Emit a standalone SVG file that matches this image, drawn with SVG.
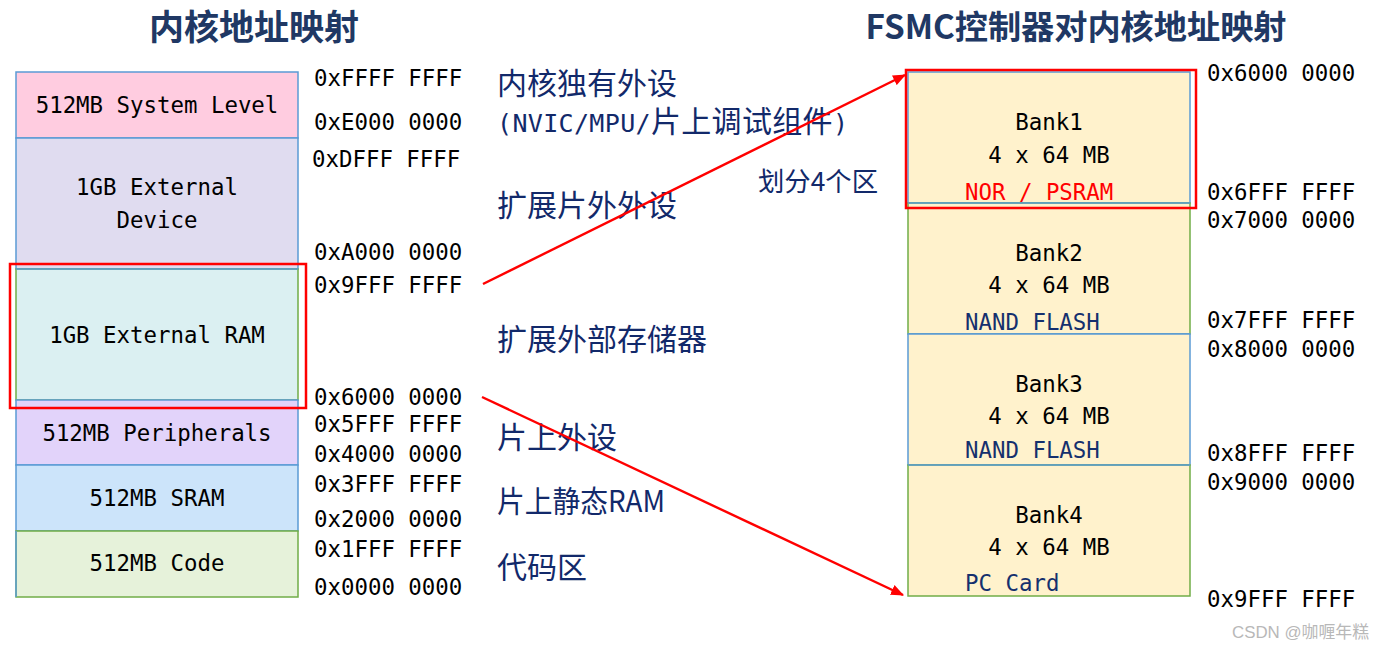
<svg xmlns="http://www.w3.org/2000/svg" width="1384" height="651" viewBox="0 0 1384 651">
<style>
.title{font-family:"Noto Sans CJK SC","Liberation Sans",sans-serif;font-weight:700;font-size:33px;fill:#203864;text-anchor:middle}
.mono{font-family:"DejaVu Sans Mono","Liberation Mono",monospace;font-size:22.4px;fill:#000}
.lbl{font-family:"DejaVu Sans Mono","Liberation Mono",monospace;font-size:22.4px;fill:#000;text-anchor:middle}
.cn{font-family:"Noto Sans CJK SC","Liberation Sans",sans-serif;font-size:30px;fill:#12296a}
.cnm{font-family:"DejaVu Sans Mono","Noto Sans CJK SC",monospace;font-size:25px}
.blue{stroke:#5B9BD5;stroke-width:1.5}
.green{stroke:#70AD47;stroke-width:1.5}
.red{fill:none;stroke:#FF0000;stroke-width:2.5}
.bank{fill:#FFF2CC}
.navy{fill:#15306e}
.conn{stroke:#FF0000;stroke-width:2.4;fill:none}
</style>
<defs>
<marker id="arr" viewBox="0 0 12 10" refX="11" refY="5" markerWidth="13" markerHeight="11" markerUnits="userSpaceOnUse" orient="auto">
<path d="M0,0 L12,5 L0,10 z" fill="#FF0000"/>
</marker>
</defs>
<rect width="1384" height="651" fill="#FFFFFF"/>

<text class="title" x="254" y="40" style="font-size:35px">内核地址映射</text>
<text class="title" x="1076" y="39" textLength="421" lengthAdjust="spacingAndGlyphs">FSMC控制器对内核地址映射</text>

<!-- left memory map -->
<g id="sys-level">
<rect x="16" y="72" width="282" height="66" fill="#FFCCE0" class="blue"/>
<text class="lbl" x="157" y="113">512MB System Level</text>
</g>
<g id="ext-device">
<rect x="16" y="138" width="282" height="131" fill="#E0DCF0" class="blue"/>
<text class="lbl" x="157" y="195">1GB External</text>
<text class="lbl" x="157" y="228">Device</text>
</g>
<g id="ext-ram">
<rect x="16" y="269" width="282" height="131" fill="#DBF0F2" class="green"/>
<line x1="16" y1="269" x2="298" y2="269" class="blue"/>
<text class="lbl" x="157" y="343">1GB External RAM</text>
</g>
<g id="peripherals">
<rect x="16" y="400" width="282" height="65" fill="#E2D3FA" class="blue"/>
<text class="lbl" x="157" y="441">512MB Peripherals</text>
</g>
<g id="sram">
<rect x="16" y="465" width="282" height="66" fill="#CCE4FA" class="blue"/>
<text class="lbl" x="157" y="506">512MB SRAM</text>
</g>
<g id="code">
<rect x="16" y="531" width="282" height="66" fill="#E6F2DA" class="green"/>
<line x1="16" y1="531" x2="16" y2="597" class="blue"/>
<text class="lbl" x="157" y="571">512MB Code</text>
</g>
<rect id="ram-highlight" x="10" y="264" width="296" height="144" class="red"/>

<!-- left addresses -->
<g id="left-addr">
<text class="mono" x="314" y="86">0xFFFF FFFF</text>
<text class="mono" x="314" y="130">0xE000 0000</text>
<text class="mono" x="312" y="167">0xDFFF FFFF</text>
<text class="mono" x="314" y="260">0xA000 0000</text>
<text class="mono" x="314" y="293">0x9FFF FFFF</text>
<text class="mono" x="314" y="405">0x6000 0000</text>
<text class="mono" x="314" y="432">0x5FFF FFFF</text>
<text class="mono" x="314" y="462">0x4000 0000</text>
<text class="mono" x="314" y="492">0x3FFF FFFF</text>
<text class="mono" x="314" y="527">0x2000 0000</text>
<text class="mono" x="314" y="557">0x1FFF FFFF</text>
<text class="mono" x="314" y="595">0x0000 0000</text>
</g>

<!-- middle descriptions -->
<g id="desc">
<text class="cn" x="497" y="94">内核独有外设</text>
<text class="cn" x="497" y="132" textLength="351" lengthAdjust="spacing"><tspan class="cnm">(NVIC/MPU/</tspan>片上调试组件<tspan class="cnm">)</tspan></text>
<text class="cn" x="497" y="216">扩展片外外设</text>
<text class="cn" x="497" y="350">扩展外部存储器</text>
<text class="cn" x="497" y="448">片上外设</text>
<text class="cn" x="497" y="512" textLength="168" lengthAdjust="spacingAndGlyphs">片上静态RAM</text>
<text class="cn" x="497" y="578">代码区</text>
<text class="cn" x="758" y="191" style="font-size:26px" textLength="120" lengthAdjust="spacingAndGlyphs">划分4个区</text>
</g>

<!-- FSMC banks -->
<g id="bank1">
<rect x="908" y="72" width="282" height="131" class="bank blue"/>
<text class="lbl" x="1049" y="130">Bank1</text>
<text class="lbl" x="1049" y="163">4 x 64 MB</text>
<text class="mono" x="965" y="200" style="fill:#FF0000">NOR / PSRAM</text>
</g>
<g id="bank2">
<rect x="908" y="203" width="282" height="131" class="bank green"/>
<line x1="908" y1="203" x2="1190" y2="203" class="blue"/>
<line x1="908" y1="334" x2="1190" y2="334" class="blue"/>
<text class="lbl" x="1049" y="261">Bank2</text>
<text class="lbl" x="1049" y="293">4 x 64 MB</text>
<text class="mono navy" x="965" y="330">NAND FLASH</text>
</g>
<g id="bank3">
<rect x="908" y="334" width="282" height="131" class="bank blue"/>
<text class="lbl" x="1049" y="392">Bank3</text>
<text class="lbl" x="1049" y="424">4 x 64 MB</text>
<text class="mono navy" x="965" y="458">NAND FLASH</text>
</g>
<g id="bank4">
<rect x="908" y="465" width="282" height="131" class="bank green"/>
<line x1="908" y1="465" x2="1190" y2="465" class="blue"/>
<text class="lbl" x="1049" y="523">Bank4</text>
<text class="lbl" x="1049" y="555">4 x 64 MB</text>
<text class="mono navy" x="965" y="591">PC Card</text>
</g>
<rect id="bank1-highlight" x="906" y="70" width="290" height="138" class="red"/>

<!-- right addresses -->
<g id="right-addr">
<text class="mono" x="1207" y="81">0x6000 0000</text>
<text class="mono" x="1207" y="200">0x6FFF FFFF</text>
<text class="mono" x="1207" y="228">0x7000 0000</text>
<text class="mono" x="1207" y="328">0x7FFF FFFF</text>
<text class="mono" x="1207" y="357">0x8000 0000</text>
<text class="mono" x="1207" y="461">0x8FFF FFFF</text>
<text class="mono" x="1207" y="490">0x9000 0000</text>
<text class="mono" x="1207" y="607">0x9FFF FFFF</text>
</g>

<g id="connectors">
<line class="conn" x1="483" y1="284" x2="905" y2="75" marker-end="url(#arr)"/>
<line class="conn" x1="482" y1="397" x2="903" y2="595" marker-end="url(#arr)"/>
</g>

<text x="1232" y="638" textLength="137" lengthAdjust="spacingAndGlyphs" style="font-family:'Liberation Sans','Noto Sans CJK SC',sans-serif;font-size:16.5px;fill:#B8B8B8">CSDN @咖喱年糕</text>
</svg>
